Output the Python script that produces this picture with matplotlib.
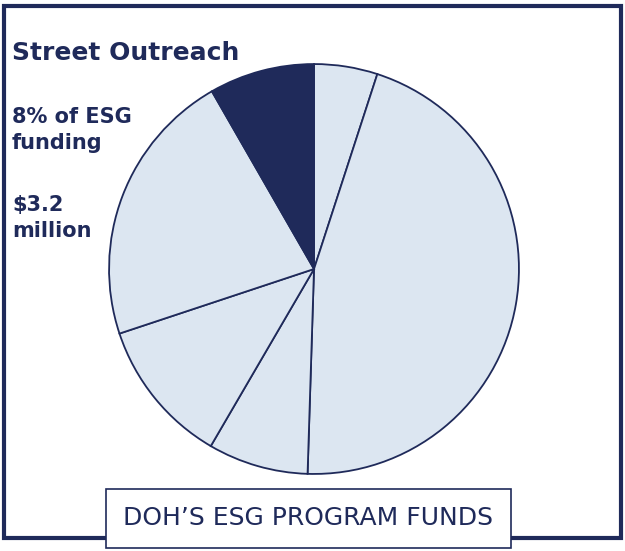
import matplotlib
matplotlib.use("Agg")
import matplotlib.pyplot as plt
from matplotlib.patches import Rectangle

categories = ["A", "B", "C", "D", "E", "Street Outreach"]
values = [5.0, 45.5, 7.9, 11.5, 21.8, 8.3]
colors = ["#dce6f1"] * 5 + ["#1f2a5a"]
navy = "#1f2a5a"

fig = plt.figure(figsize=(6.25, 5.51), dpi=100)
fig.patches.append(Rectangle((4/625, 1-538/551), 617/625, 532/551, transform=fig.transFigure,
                             fill=False, edgecolor=navy, linewidth=3))
ax = fig.add_axes([107/625, 1-476/551, 414/625, 414/551])
ax.pie(values, colors=colors, startangle=90, counterclock=False, radius=1.0,
       wedgeprops=dict(edgecolor=navy, linewidth=1.3))
ax.set_xlim(-1.01, 1.01)
ax.set_ylim(-1.01, 1.01)
ax.set_aspect("equal")
ax.axis("off")

fig.text(12/625, 1-53/551, "Street Outreach", fontsize=18, fontweight="bold", color=navy, va="center")
fig.text(12/625, 1-130/551, "8% of ESG\nfunding", fontsize=15, fontweight="bold", color=navy, va="center", linespacing=1.35)
fig.text(12/625, 1-218/551, "$3.2\nmillion", fontsize=15, fontweight="bold", color=navy, va="center", linespacing=1.35)

fig.text(308/625, 1-518/551, "DOH\u2019S ESG PROGRAM FUNDS", fontsize=18, color=navy, ha="center", va="center",
         bbox=dict(boxstyle="square,pad=0.7", facecolor="white", edgecolor=navy, linewidth=1.2))
fig.savefig("out.png", dpi=100)
